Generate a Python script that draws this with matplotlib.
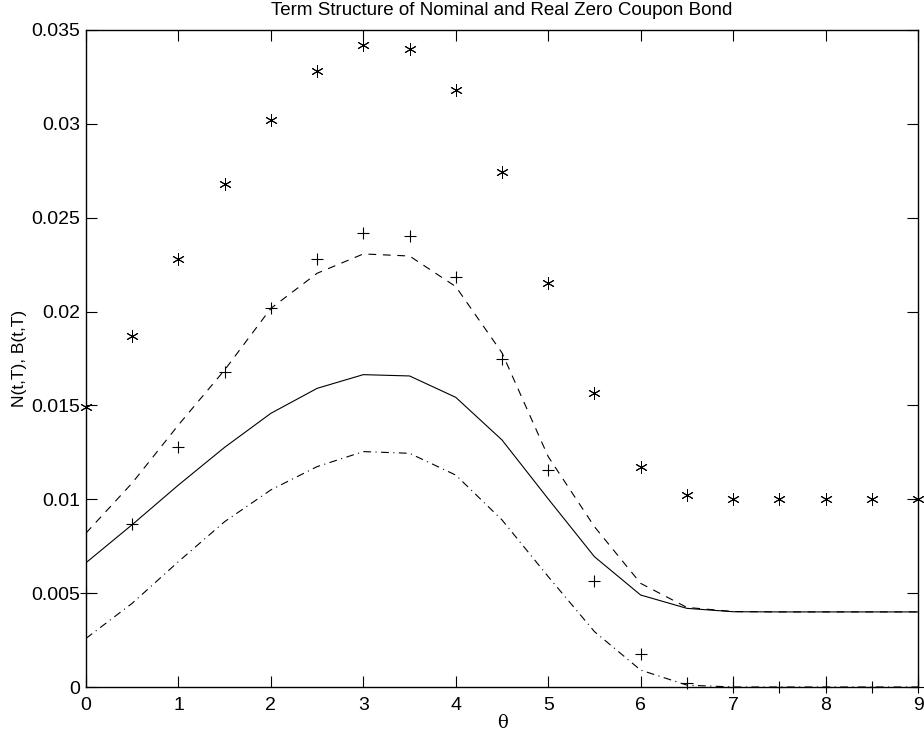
import numpy as np
import matplotlib.pyplot as plt

plt.rcParams['font.family'] = ['Liberation Sans', 'DejaVu Sans']

theta = np.arange(0, 9.01, 0.5)

# nominal zero coupon (asterisk markers)
nominal_pts = [0.0149, 0.0187, 0.0228, 0.0268, 0.0302, 0.0328, 0.0342, 0.0340,
               0.0318, 0.02745, 0.0215, 0.01565, 0.01174, 0.01025, 0.0100,
               0.0100, 0.0100, 0.0100, 0.0100]
# real zero coupon (plus markers)
real_pts = [0.0050, 0.00868, 0.0128, 0.0168, 0.0202, 0.0228, 0.0242, 0.0240,
            0.02186, 0.01747, 0.01156, 0.00566, 0.00174, 0.00023, 0.0,
            0.0, 0.0, 0.0, 0.0]
mid_line = [0.00662, 0.00865, 0.01076, 0.01277, 0.01458, 0.01591, 0.01664,
            0.01657, 0.01543, 0.01316, 0.01002, 0.00694, 0.0049, 0.00419,
            0.00401, 0.004, 0.004, 0.004, 0.004]
upper_line = [0.0082, 0.01087, 0.01396, 0.01689, 0.02017, 0.02204, 0.02307,
              0.02296, 0.02133, 0.0178, 0.01227, 0.00854, 0.00552, 0.00424,
              0.00402, 0.004, 0.004, 0.004, 0.004]
lower_line = [0.00259, 0.00446, 0.00668, 0.00881, 0.0105, 0.01174, 0.01254,
              0.01245, 0.01129, 0.0089, 0.00588, 0.00295, 0.0009, 0.0001,
              0.0, 0.0, 0.0, 0.0, 0.0]

fig = plt.figure(figsize=(9.24, 7.39), dpi=100)
ax = fig.add_axes([86 / 924, 1 - 687 / 739, 832 / 924, 657 / 739])

ax.plot(theta, nominal_pts, linestyle='none', marker=(6, 2, 0), markersize=9,
        color='k', markeredgewidth=0.7, clip_on=False)
ax.plot(theta, real_pts, linestyle='none', marker='+', markersize=8,
        color='k', markeredgewidth=0.8, clip_on=False)
ax.plot(theta, upper_line, color='k', linewidth=0.8, dashes=(7, 6))
ax.plot(theta, mid_line, color='k', linewidth=0.8)
ax.plot(theta, lower_line, color='k', linewidth=0.8, dashes=(7, 4, 1, 4))

ax.set_xlim(0, 9)
ax.set_ylim(0, 0.035)
ax.set_xticks(range(0, 10))
ax.set_yticks(np.arange(0, 0.0351, 0.005))
ax.set_yticklabels(['0', '0.005', '0.01', '0.015', '0.02', '0.025', '0.03', '0.035'])
ax.tick_params(direction='in', length=8, width=0.8, labelsize=14,
               top=True, right=True, pad=4)
ax.tick_params(axis='x', pad=7)
for s in ax.spines.values():
    s.set_linewidth(1.0)

ax.set_title('Term Structure of Nominal and Real Zero Coupon Bond',
             fontsize=13.5, pad=11)
ax.set_xlabel('\u03b8', fontsize=13, labelpad=0, family=['DejaVu Serif'])
ax.set_ylabel('N(t,T), B(t,T)', fontsize=12.5, labelpad=3)

fig.savefig('out.png', dpi=100)
